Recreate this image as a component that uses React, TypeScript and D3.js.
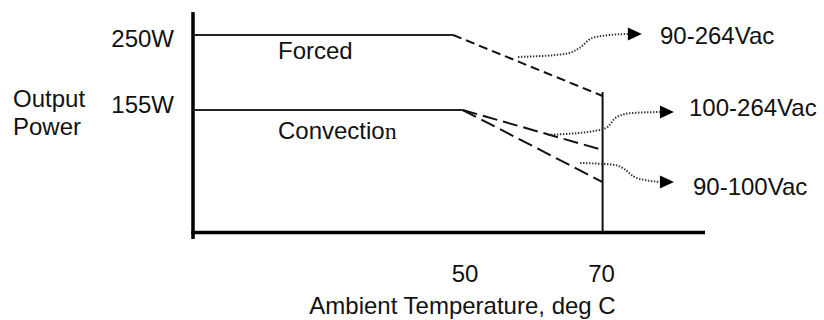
import React from "react";
import * as d3 from "d3";

// ---- data ----
const xTicks = [50, 70];
const yTickValues = [250, 155];
const yTickLabels = ["250W", "155W"];
const forcedSolid: [number, number][] = [[10, 250], [48.1, 250]];
const forcedDerate: [number, number][] = [[48.1, 250], [70, 172.8]];
const convSolid: [number, number][] = [[10, 155], [49.5, 155]];
const convDerateHigh: [number, number][] = [[49.5, 155], [70, 104.4]];
const convDerateLow: [number, number][] = [[49.5, 155], [70, 63.8]];
const cutoffLine: [number, number][] = [[70, 177.8], [70, 0]];
const inputLabels = ["90-264Vac", "100-264Vac", "90-100Vac"];
const calloutPaths: [number, number][][] = [
  [[57.6, 222.2], [64.5, 226], [66.7, 234], [68.4, 246], [70.5, 249.5], [73.7, 251.3]],
  [[62.0, 123.4], [69.6, 129.7], [70.8, 134], [71.9, 145], [74.0, 151], [78.4, 152.5]],
  [[66.7, 87.9], [71.8, 85.4], [73.3, 79.5], [74.6, 70.5], [76.5, 66], [78.4, 63.8]],
];
const labelAnchors: [number, number][] = [[78.4, 238.6], [82.66, 147.4], [83.24, 47.4]];

const W = 824;
const H = 320;
const FONT = "'Liberation Sans', Arial, Helvetica, sans-serif";

export default function App() {
  const x = d3.scaleLinear().domain([10, 85]).range([193, 705]);
  const y = d3.scaleLinear().domain([0, 250]).range([232.4, 35]);
  const line = d3.line<[number, number]>().x((d) => x(d[0])).y((d) => y(d[1]));
  const curve = d3
    .line<[number, number]>()
    .x((d) => x(d[0]))
    .y((d) => y(d[1]))
    .curve(d3.curveMonotoneX);

  const yLabelOffsets = [11.7, 3.4];
  const arrowW = 14;
  const arrowH = 13;

  return (
    <svg
      width={W}
      height={H}
      style={{ position: "absolute", left: 0, top: 0, background: "#fff" }}
      fontFamily={FONT}
    >
      <rect width={W} height={H} fill="#fff" />
      {/* axes */}
      <line x1={x(10)} x2={x(10)} y1={y(279)} y2={y(-8.4)} stroke="#000" strokeWidth={3.5} />
      <line x1={x(10) - 1.7} x2={x(85)} y1={y(0)} y2={y(0)} stroke="#000" strokeWidth={3.5} />

      {/* y labels */}
      {yTickValues.map((v, i) => (
        <text key={v} x={174} y={y(v) + yLabelOffsets[i]} textAnchor="end" fontSize={24} fill="#111">
          {yTickLabels[i]}
        </text>
      ))}
      <text x={13} y={107} fontSize={24} fill="#111">Output</text>
      <text x={13} y={135} fontSize={24} fill="#111">Power</text>

      {/* x ticks */}
      {xTicks.map((t) => (
        <text key={t} x={x(t) - 1} y={282} textAnchor="middle" fontSize={24} fill="#111">
          {t}
        </text>
      ))}
      <text x={462.5} y={313.5} textAnchor="middle" fontSize={24} fill="#111">
        Ambient Temperature, deg C
      </text>

      {/* curves */}
      <path d={line(forcedSolid)!} fill="none" stroke="#222" strokeWidth={1.8} />
      <path d={line(forcedDerate)!} fill="none" stroke="#111" strokeWidth={2} strokeDasharray="9,5" />
      <path d={line(convSolid)!} fill="none" stroke="#222" strokeWidth={1.8} />
      <path d={line(convDerateHigh)!} fill="none" stroke="#111" strokeWidth={2} strokeDasharray="15,6" />
      <path d={line(convDerateLow)!} fill="none" stroke="#111" strokeWidth={2} strokeDasharray="15,6" />
      <path d={line(cutoffLine)!} fill="none" stroke="#111" strokeWidth={2} />

      <text x={x(22.45)} y={y(219.5)} fontSize={24} fill="#111">Forced</text>
      <text x={x(22.45)} y={y(118.2)} fontSize={24} fill="#111">
        Convectio<tspan fontFamily="'Liberation Serif', 'Times New Roman', serif">n</tspan>
      </text>

      {/* callouts */}
      {calloutPaths.map((pts, i) => {
        const end = pts[pts.length - 1];
        const ex = x(end[0]);
        const ey = y(end[1]);
        return (
          <g key={i}>
            <path d={curve(pts)!} fill="none" stroke="#333" strokeWidth={2} strokeDasharray="1.4,1.6" />
            <path
              d={`M${ex},${ey - arrowH / 2}L${ex + arrowW},${ey}L${ex},${ey + arrowH / 2}Z`}
              fill="#000"
            />
            <text x={x(labelAnchors[i][0])} y={y(labelAnchors[i][1])} fontSize={24} fill="#111">
              {inputLabels[i]}
            </text>
          </g>
        );
      })}
    </svg>
  );
}
